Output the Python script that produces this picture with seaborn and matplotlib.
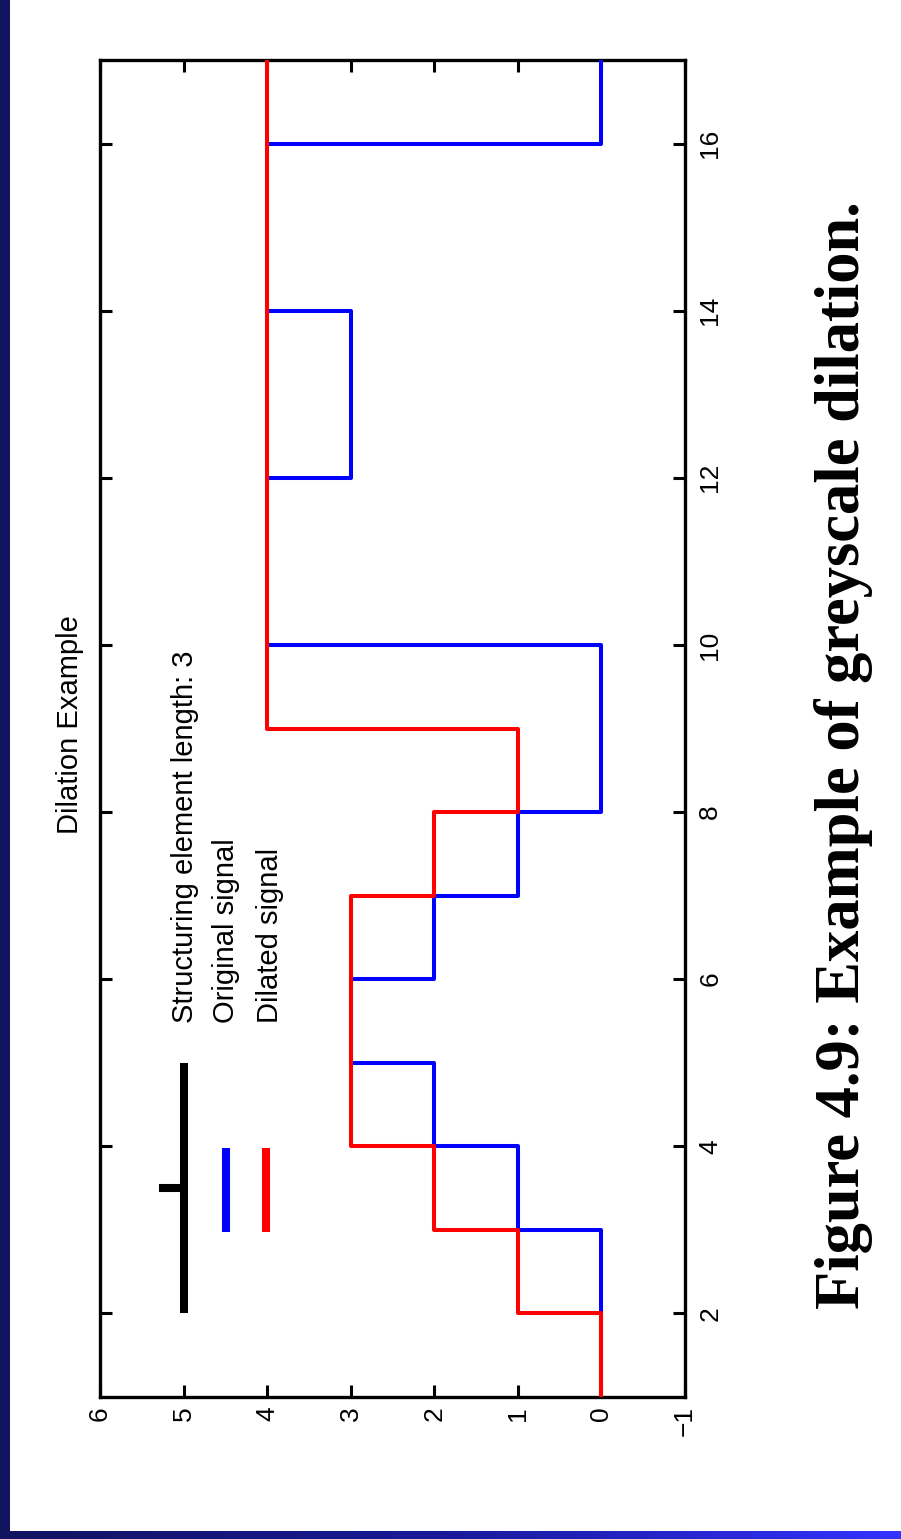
import numpy as np
import pandas as pd
import matplotlib
matplotlib.use("Agg")
import matplotlib.pyplot as plt
import seaborn as sns
from matplotlib.lines import Line2D
from matplotlib.patches import Rectangle
from matplotlib.colors import LinearSegmentedColormap

# ---------------- data ----------------
t_index = list(range(1, 18))
original = [0, 0, 1, 2, 3, 2, 1, 0, 0, 4, 4, 3, 3, 4, 4, 0, 0]
dilated = [0, 1, 2, 3, 3, 3, 2, 1, 4, 4, 4, 4, 4, 4, 4, 4, 4]
se_level = 5
se_span = [2, 5]
se_origin = 3.5
value_ticks = list(range(-1, 7))
index_ticks = list(range(2, 17, 2))
title = "Dilation Example"
legend_labels = ["Structuring element length: 3", "Original signal", "Dilated signal"]
caption = "Figure 4.9: Example of greyscale dilation."

# ---------------- style ----------------
W, H = 901, 1539
sns.set_style("white")
plt.rcParams['font.family'] = ['Liberation Sans', 'DejaVu Sans']

fig = plt.figure(figsize=(W / 100, H / 100), dpi=100)
fig.patch.set_facecolor('white')


def fx(x):
    return x / W


def fy(y):
    return 1 - y / H


ax = fig.add_axes([fx(100), fy(1397), 585 / W, 1337 / H])
ax.set_facecolor('white')

df = pd.DataFrame({'t': t_index, 'original': original, 'dilated': dilated})
sns.lineplot(data=df, x='original', y='t', orient='y', estimator=None,
             drawstyle='steps-pre', color='#0000ff', lw=2.9, ax=ax, zorder=3)
sns.lineplot(data=df, x='dilated', y='t', orient='y', estimator=None,
             drawstyle='steps-pre', color='#ff0000', lw=2.9, ax=ax, zorder=4)

# structuring element (legend key drawn at its data location)
ax.plot([se_level, se_level], se_span, color='black', lw=5.8,
        solid_capstyle='butt', zorder=5)
ax.plot([se_level, se_level + 0.29], [se_origin, se_origin], color='black',
        lw=5.8, solid_capstyle='butt', zorder=5)

ax.set_xlim(6, -1)
ax.set_ylim(1, 17)
ax.set_xticks(value_ticks)
ax.set_yticks(index_ticks)
ax.set_xlabel('')
ax.set_ylabel('')
for s in ax.spines.values():
    s.set_visible(True)
    s.set_color('black')
    s.set_linewidth(2.4)
ax.tick_params(axis='both', direction='in', length=8.6, width=2.2,
               colors='black', top=True, bottom=True, left=True, right=True,
               labelleft=False, labelright=True, labelbottom=True,
               labeltop=False, labelsize=19)
ax.tick_params(axis='x', labelrotation=90, pad=6.5)
ax.tick_params(axis='y', labelrotation=90, pad=9.5)
for tk in ax.yaxis.get_major_ticks():
    tk.label2.set_va('center')
    tk.label2.set_ha('left')

# legend keys
fig.add_artist(Line2D([fx(226), fx(226)], [fy(1148), fy(1232)], lw=5.8,
                      color='#0000ff', solid_capstyle='butt'))
fig.add_artist(Line2D([fx(266), fx(266)], [fy(1148), fy(1232)], lw=5.8,
                      color='#ff0000', solid_capstyle='butt'))
for lbl, bx in zip(legend_labels, [193, 234, 278]):
    fig.text(fx(bx), fy(1023), lbl, rotation=90, rotation_mode='anchor',
             ha='left', va='baseline', fontsize=21, color='black')

# title
fig.text(fx(78), fy(725), title, rotation=90, rotation_mode='anchor',
         ha='center', va='baseline', fontsize=21, color='black')

# caption
fig.text(fx(859), fy(755), caption, rotation=90, rotation_mode='anchor',
         ha='center', va='baseline', fontsize=45, color='black',
         family=['Liberation Serif', 'DejaVu Serif'], weight='bold')

# slide border decoration
fig.add_artist(Rectangle((0, fy(1531)), fx(10), 1 - fy(1531),
                         transform=fig.transFigure, color='#121460', lw=0))
bax = fig.add_axes([0, 0, 1, 8 / H])
cmap = LinearSegmentedColormap.from_list('b', ['#121460', '#1a1a9a', '#3333ff'])
bax.imshow(np.linspace(0, 1, 256)[None, :], aspect='auto', cmap=cmap)
bax.axis('off')

fig.savefig('out.png', dpi=100, facecolor='white')
